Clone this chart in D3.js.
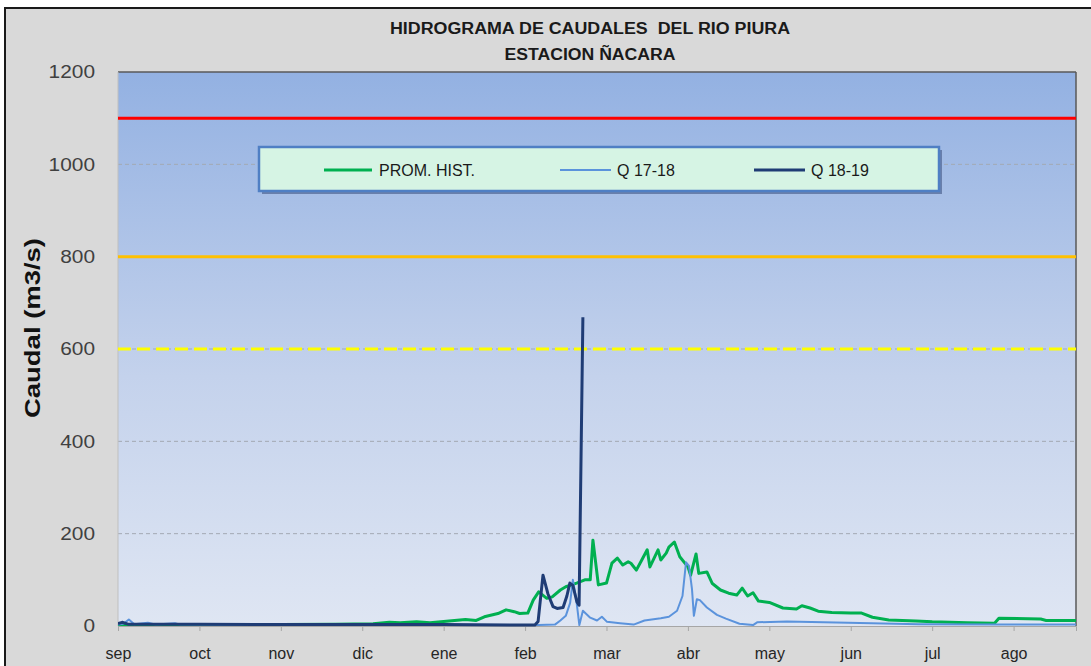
<!DOCTYPE html>
<html>
<head>
<meta charset="utf-8">
<script src="https://cdn.jsdelivr.net/npm/d3@7"></script>
<style>
  body { margin: 0; background: #ffffff; }
  svg { display: block; }
</style>
</head>
<body>
<script>
// ---------------- DATA ----------------
const titleLines = ["HIDROGRAMA DE CAUDALES  DEL RIO PIURA", "ESTACION ÑACARA"];
const yAxisTitle = "Caudal (m3/s)";
const months = ["sep", "oct", "nov", "dic", "ene", "feb", "mar", "abr", "may", "jun", "jul", "ago"];
const monthTickDays = [0, 30, 60, 90, 120, 150, 180, 210, 240, 270, 300, 330];
const yTicks = [0, 200, 400, 600, 800, 1000, 1200];
const seriesNames = ["PROM. HIST.", "Q 17-18", "Q 18-19"];

// thresholds (m3/s)
const thresholdRed = 1100;
const thresholdOrange = 800;
const thresholdYellow = 600;

// PROM. HIST. (day index from 1 Sep, caudal)
const promDays = [0, 15, 30, 45, 60, 80, 94, 100, 104, 110, 115, 120, 124, 128, 132, 135, 140, 143, 146, 148, 151, 153, 155, 158, 160, 163, 165, 169, 172, 174, 175, 177, 180, 182, 184, 186, 188, 189, 191, 193, 195, 196, 199, 200, 202, 203, 205, 207, 210, 211, 213, 214, 217, 219, 222, 225, 228, 230, 232, 234, 236, 240, 245, 250, 252, 255, 258, 263, 270, 274, 278, 284, 294, 300, 313, 323, 324.6, 340, 342, 353];
const promValues = [3, 3, 3, 3, 3, 4, 5, 8, 7, 9, 7, 10, 12, 14, 12, 20, 27, 35, 31, 27, 28, 56, 74, 60, 63, 78, 85, 93, 100, 100, 186, 89, 93, 136, 147, 132, 139, 136, 121, 143, 165, 128, 165, 143, 158, 171, 182, 150, 128, 110, 156, 114, 117, 92, 78, 71, 67, 82, 65, 72, 54, 51, 39, 37, 44, 39, 32, 29, 28, 28, 19, 13, 11, 9, 7, 6, 17, 15, 12, 12];

// Q 17-18
const q1718Days = [0, 2, 4, 6, 11, 14, 21, 23, 67, 122, 155, 161, 163, 165, 166.6, 167.6, 168.8, 170, 171.3, 174, 176.5, 178.3, 180.2, 185, 190, 194, 200, 203, 206, 208, 209.3, 210.4, 211.5, 212.2, 213.3, 214.4, 217, 220.7, 224, 229, 234, 235.5, 246.5, 251, 269, 295, 325, 353];
const q1718Values = [3, 5, 14, 4, 7, 3, 6, 3, 2, 2, 2, 3, 12, 22, 50, 100, 60, 2, 33, 18, 12, 20, 9, 6, 3, 12, 17, 20, 33, 65, 138, 130, 80, 22, 58, 56, 40, 24, 16, 5, 2, 8, 10, 9, 7, 4, 3, 3];

// Q 18-19
const q1819Days = [0, 1.5, 3.7, 30, 67, 120, 153.6, 154.8, 156.6, 158.4, 160.3, 161.8, 164, 165.4, 166.5, 167.6, 169.1, 169.9, 171.3];
const q1819Values = [5, 8, 4, 4, 3, 3, 2, 10, 110, 70, 42, 38, 40, 65, 93, 88, 52, 45, 669];

// ---------------- LAYOUT ----------------
const W = 1091, H = 666;
const plot = { left: 118, right: 1076, top: 72, bottom: 626 };
const narrow = "'Liberation Sans Narrow', 'Arial Narrow', 'Liberation Sans', Arial, sans-serif";
const sans = "'Liberation Sans', Arial, sans-serif";

const svg = d3.select("body").append("svg").attr("width", W).attr("height", H);
const defs = svg.append("defs");

const grad = defs.append("linearGradient").attr("id", "bg").attr("x1", 0).attr("y1", 0).attr("x2", 0).attr("y2", 1);
grad.append("stop").attr("offset", "0%").attr("stop-color", "#93b1e2");
grad.append("stop").attr("offset", "55%").attr("stop-color", "#c4d2ec");
grad.append("stop").attr("offset", "100%").attr("stop-color", "#dfe6f3");

defs.append("clipPath").attr("id", "clip").append("rect")
  .attr("x", plot.left).attr("y", plot.top - 2)
  .attr("width", plot.right - plot.left).attr("height", plot.bottom - plot.top + 3);

// chart area
svg.append("rect").attr("x", 5).attr("y", 8).attr("width", W).attr("height", H)
  .attr("fill", "#d9d9d9").attr("stroke", "#1a1a1a").attr("stroke-width", 2);

// scales
const x = d3.scaleLinear().domain([0, 353]).range([plot.left, plot.right]);
const y = d3.scaleLinear().domain([0, 1200]).range([plot.bottom, plot.top]);

// plot background
svg.append("rect").attr("x", plot.left).attr("y", plot.top)
  .attr("width", plot.right - plot.left).attr("height", plot.bottom - plot.top)
  .attr("fill", "url(#bg)");

// gridlines
svg.append("g").selectAll("line").data(yTicks.filter(v => v > 0 && v < 1200)).join("line")
  .attr("x1", plot.left).attr("x2", plot.right)
  .attr("y1", d => y(d)).attr("y2", d => y(d))
  .attr("stroke", "#a3a9b3").attr("stroke-width", 1).attr("stroke-dasharray", "4,3");

// plot border
svg.append("line").attr("x1", plot.left).attr("x2", plot.right).attr("y1", plot.top).attr("y2", plot.top)
  .attr("stroke", "#595959").attr("stroke-width", 1.5);
svg.append("line").attr("x1", plot.right).attr("x2", plot.right).attr("y1", plot.top).attr("y2", plot.bottom)
  .attr("stroke", "#595959").attr("stroke-width", 1.5);
svg.append("line").attr("x1", plot.left).attr("x2", plot.left).attr("y1", plot.top).attr("y2", plot.bottom)
  .attr("stroke", "#bfbfbf").attr("stroke-width", 1);

// threshold lines
svg.append("line").attr("x1", plot.left).attr("x2", plot.right)
  .attr("y1", y(thresholdRed)).attr("y2", y(thresholdRed))
  .attr("stroke", "#ff0000").attr("stroke-width", 3);
svg.append("line").attr("x1", plot.left).attr("x2", plot.right)
  .attr("y1", y(thresholdOrange)).attr("y2", y(thresholdOrange))
  .attr("stroke", "#ffc000").attr("stroke-width", 3);
svg.append("line").attr("x1", plot.left).attr("x2", plot.right)
  .attr("y1", y(thresholdYellow)).attr("y2", y(thresholdYellow))
  .attr("stroke", "#ffff00").attr("stroke-width", 3).attr("stroke-dasharray", "13,6");

// x axis
const xAxis = d3.axisBottom(x).tickValues(monthTickDays)
  .tickFormat((d, i) => months[i]).tickSize(5).tickPadding(17);
const gx = svg.append("g").attr("transform", `translate(0,${plot.bottom})`).call(xAxis);
gx.select(".domain").attr("stroke", "#a6a6a6");
gx.selectAll(".tick line").attr("stroke", "#a6a6a6");
gx.selectAll("text").attr("fill", "#262626").style("font-family", narrow).style("font-size", "16px");

// y axis
const yAxis = d3.axisLeft(y).tickValues(yTicks).tickFormat(d3.format("d")).tickSize(0).tickPadding(23);
const gy = svg.append("g").attr("transform", `translate(${plot.left},0)`).call(yAxis);
gy.select(".domain").remove();
gy.selectAll("text").attr("fill", "#404040").style("font-family", sans).style("font-size", "18px")
  .attr("textLength", d => String(d).length * 11.6).attr("lengthAdjust", "spacingAndGlyphs");

// y axis title
svg.append("text").attr("transform", `translate(40,328) rotate(-90)`)
  .attr("text-anchor", "middle").style("font-family", sans).style("font-size", "22px")
  .style("font-weight", "bold").attr("fill", "#111")
  .attr("textLength", 180).attr("lengthAdjust", "spacingAndGlyphs").text(yAxisTitle);

// title
svg.append("text").attr("x", 590).attr("y", 34).attr("text-anchor", "middle")
  .style("white-space", "pre")
  .style("font-family", narrow).style("font-size", "16px").style("font-weight", "bold").attr("fill", "#1a1a1a")
  .attr("textLength", 400).attr("lengthAdjust", "spacingAndGlyphs").text(titleLines[0]);
svg.append("text").attr("x", 590).attr("y", 60).attr("text-anchor", "middle")
  .style("font-family", narrow).style("font-size", "16px").style("font-weight", "bold").attr("fill", "#1a1a1a")
  .attr("textLength", 171).attr("lengthAdjust", "spacingAndGlyphs").text(titleLines[1]);

// series
const line = d3.line().x(d => x(d[0])).y(d => y(d[1]));
const zip = (a, b) => a.map((v, i) => [v, b[i]]);
const g = svg.append("g").attr("clip-path", "url(#clip)");
g.append("path").datum(zip(promDays, promValues)).attr("d", line)
  .attr("fill", "none").attr("stroke", "#00b050").attr("stroke-width", 3).attr("stroke-linejoin", "round");
g.append("path").datum(zip(q1718Days, q1718Values)).attr("d", line)
  .attr("fill", "none").attr("stroke", "#5b93dc").attr("stroke-width", 2).attr("stroke-linejoin", "round");
g.append("path").datum(zip(q1819Days, q1819Values)).attr("d", line)
  .attr("fill", "none").attr("stroke", "#1f3c75").attr("stroke-width", 3).attr("stroke-linejoin", "round");

// legend
const lg = svg.append("g");
lg.append("rect").attr("x", 262).attr("y", 150).attr("width", 680).attr("height", 44)
  .attr("fill", "#5a6f9c").attr("opacity", 0.8);
lg.append("rect").attr("x", 259).attr("y", 147).attr("width", 680).attr("height", 44)
  .attr("fill", "#d6f4e4").attr("stroke", "#4f7fc4").attr("stroke-width", 2.5);
const legendItems = [
  { name: seriesNames[0], color: "#00b050", w: 3, x1: 324, x2: 372, tx: 379 },
  { name: seriesNames[1], color: "#5b93dc", w: 2, x1: 560, x2: 611, tx: 617 },
  { name: seriesNames[2], color: "#1f3c75", w: 3, x1: 754, x2: 805, tx: 811 }
];
legendItems.forEach(it => {
  lg.append("line").attr("x1", it.x1).attr("x2", it.x2).attr("y1", 170).attr("y2", 170)
    .attr("stroke", it.color).attr("stroke-width", it.w);
  lg.append("text").attr("x", it.tx).attr("y", 176).style("font-family", sans).style("font-size", "16px")
    .attr("fill", "#1a1a1a").text(it.name);
});
</script>
</body>
</html>
